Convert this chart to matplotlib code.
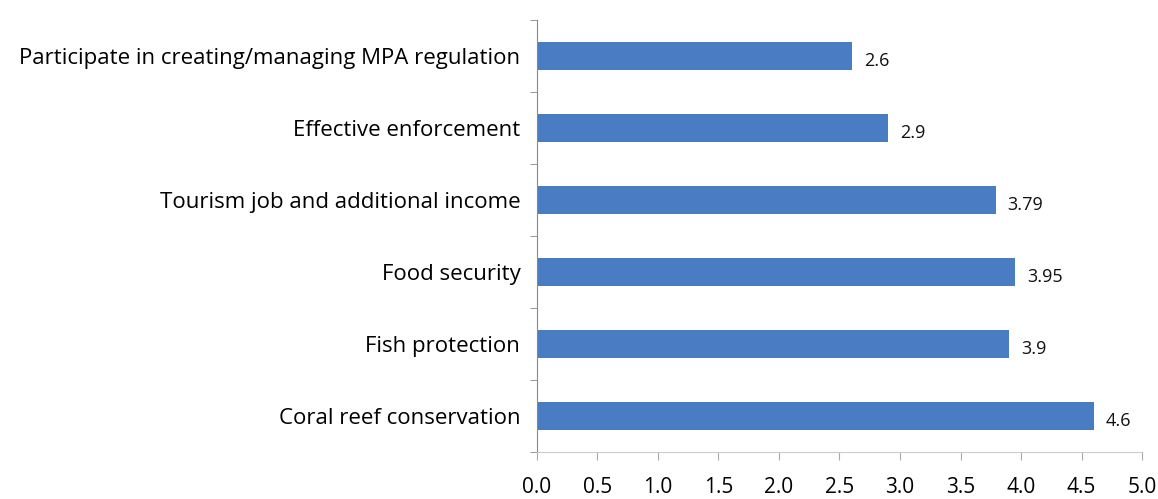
import matplotlib.pyplot as plt
import numpy as np

categories = ['Coral reef conservation', 'Fish protection', 'Food security',
              'Tourism job and additional income', 'Effective enforcement',
              'Participate in creating/managing MPA regulation']
scores = [4.6, 3.9, 3.95, 3.79, 2.9, 2.6]
score_labels = ['4.6', '3.9', '3.95', '3.79', '2.9', '2.6']
x_ticks = [0.0, 0.5, 1.0, 1.5, 2.0, 2.5, 3.0, 3.5, 4.0, 4.5, 5.0]

plt.rcParams['font.family'] = ['Open Sans', 'DejaVu Sans']

fig = plt.figure(figsize=(11.58, 4.99), dpi=100)
ax = fig.add_axes([0.4637, 0.094, 0.5225, 0.866])

pos = np.arange(len(categories))
ax.barh(pos, scores, height=0.4, color='#4a7cc4')
for p, v, lab in zip(pos, scores, score_labels):
    ax.text(v + 0.1, p - 0.07, lab, va='center', ha='left', fontsize=13, color='#111111')

ax.set_xlim(0, 5)
ax.set_ylim(-0.5, len(categories) - 0.5)
ax.set_xticks(x_ticks)
ax.set_xticklabels([f'{t:.1f}' for t in x_ticks], fontsize=15)
ax.set_yticks(pos)
ax.set_yticklabels(categories, fontsize=16)
ax.set_yticks(np.arange(-0.5, len(categories)), minor=True)

ax.tick_params(axis='y', which='major', length=0, pad=12)
ax.tick_params(axis='y', which='minor', length=5, color='#888888')
ax.tick_params(axis='x', length=6, color='#aaaaaa', pad=12)

for s in ['top', 'right']:
    ax.spines[s].set_visible(False)
ax.spines['left'].set_color('#888888')
ax.spines['bottom'].set_color('#cccccc')

plt.savefig('out.png', dpi=100)
